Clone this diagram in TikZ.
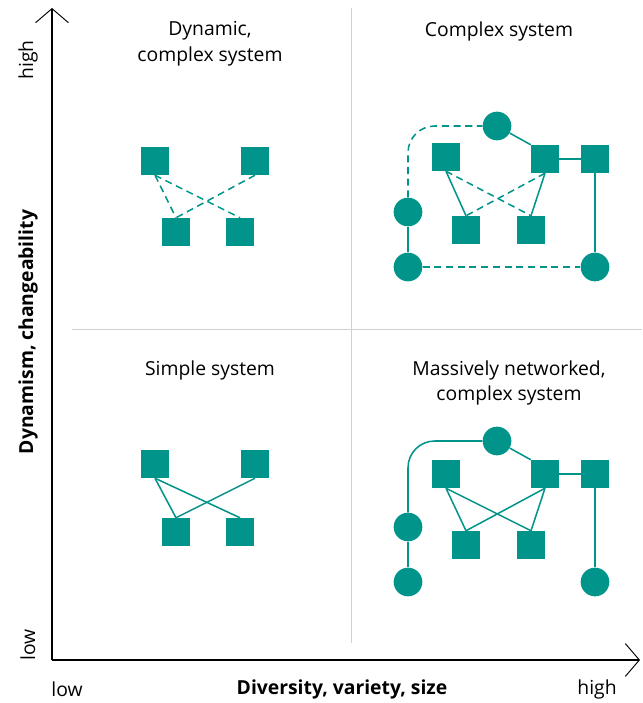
\documentclass[tikz,border=0pt]{standalone}
\usepackage{fontspec}
\setmainfont{Open Sans}
\usetikzlibrary{arrows.meta, positioning}
\definecolor{sysgreen}{RGB}{0,148,138}
\tikzset{
	box/.style={fill=sysgreen, minimum size=0.84cm, inner sep=0pt},
	hub/.style={circle, fill=sysgreen, minimum size=0.86cm, inner sep=0pt},
	link/.style={draw=sysgreen, line width=1.3pt},
	loose/.style={link, dash pattern=on 6pt off 4pt},
	divider/.style={draw=black!18, line width=0.7pt},
	axis/.style={line width=0.9pt, -{Straight Barb[length=12pt, width=28pt, line width=0.8pt]}},
	title/.style={align=center, font=\fontsize{16.5}{22}\selectfont},
	axlabel/.style={font=\fontsize{16.5}{20}\selectfont}
}

\begin{document}
\begin{tikzpicture}[x=0.03cm, y=-0.03cm]
		\useasboundingbox (0,0) rectangle (642,703);
		
		% axes and quadrants
		\coordinate (origin) at (52,660);
		\coordinate (ytip) at (52,8);
		\coordinate (xtip) at (640,660);
		\coordinate (vtop) at (351,8);
		\coordinate (vbot) at (351,643);
		\coordinate (hleft) at (72,329);
		\coordinate (hright) at (642,329);
		\draw[divider] (vtop) -- (vbot);
		\draw[divider] (hleft) -- (hright);
		\draw[axis] (origin) -- (ytip);
		\draw[axis] (origin) -- (xtip);
		
		\node[axlabel, rotate=90] (yhigh) at (28,60) {high};
		\node[axlabel, rotate=90] (ylow) at (28,645) {low};
		\node[axlabel, rotate=90, font=\fontsize{16.5}{20}\selectfont\bfseries] (yname) at (28,332) {Dynamism, changeability};
		\node[axlabel] (xlow) at (67,689) {low};
		\node[axlabel, font=\fontsize{16.5}{20}\selectfont\bfseries] (xname) at (342,689) {Diversity, variety, size};
		\node[axlabel] (xhigh) at (597,689) {high};
		
		\node[title] (tdyn) at (210,44) {Dynamic,\\complex system};
		\node[title] (tcpx) at (499,31) {Complex system};
		\node[title] (tsim) at (210,370) {Simple system};
		\node[title] (tnet) at (509,383) {Massively networked,\\complex system};
		
		% dynamic, complex system
		\node[box] (da) at (155,161) {};
		\node[box] (db) at (255,161) {};
		\node[box] (dc) at (176,232) {};
		\node[box] (dd) at (240,232) {};
		\draw[loose] (da.south) -- (dc.north);
		\draw[loose] (da.south) -- (dd.north);
		\draw[loose] (db.south) -- (dc.north);
		
		% simple system
		\node[box] (sa) at (155,464) {};
		\node[box] (sb) at (255,464) {};
		\node[box] (sc) at (176,532) {};
		\node[box] (sd) at (240,532) {};
		\draw[link] (sa.south) -- (sc.north);
		\draw[link] (sa.south) -- (sd.north);
		\draw[link] (sb.south) -- (sc.north);
		
		% complex system
		\node[box] (ca) at (446,157) {};
		\node[box] (cb) at (545,159) {};
		\node[box] (cc) at (595,159) {};
		\node[box] (cd) at (466,230) {};
		\node[box] (ce) at (531,230) {};
		\node[hub] (ctop) at (497,126) {};
		\node[hub] (cleft) at (408,212) {};
		\node[hub] (clow) at (408,267) {};
		\node[hub] (cright) at (595,267) {};
		\draw[link] (ca.south) -- (cd.north);
		\draw[loose] (ca.south) -- (ce.north);
		\draw[loose] (cb.south) -- (cd.north);
		\draw[link] (cb.south) -- (ce.north);
		\draw[link] (ctop) -- (cb.north west);
		\draw[link] (cb) -- (cc);
		\draw[link] (cc) -- (cright);
		\draw[link] (cleft) -- (clow);
		\draw[loose] (clow) -- (cright);
		\draw[loose, rounded corners=0.8cm] (cleft) |- (ctop);
		
		% massively networked, complex system
		\node[box] (na) at (446,474) {};
		\node[box] (nb) at (545,474) {};
		\node[box] (nc) at (595,474) {};
		\node[box] (nd) at (466,545) {};
		\node[box] (ne) at (531,545) {};
		\node[hub] (ntop) at (497,441) {};
		\node[hub] (nleft) at (408,527) {};
		\node[hub] (nlow) at (408,582) {};
		\node[hub] (nright) at (595,582) {};
		\draw[link] (na.south) -- (nd.north);
		\draw[link] (na.south) -- (ne.north);
		\draw[link] (nb.south) -- (nd.north);
		\draw[link] (nb.south) -- (ne.north);
		\draw[link] (ntop) -- (nb.north west);
		\draw[link] (nb) -- (nc);
		\draw[link] (nc) -- (nright);
		\draw[link] (nleft) -- (nlow);
		\draw[link, rounded corners=0.8cm] (nleft) |- (ntop);
\end{tikzpicture}
\end{document}
